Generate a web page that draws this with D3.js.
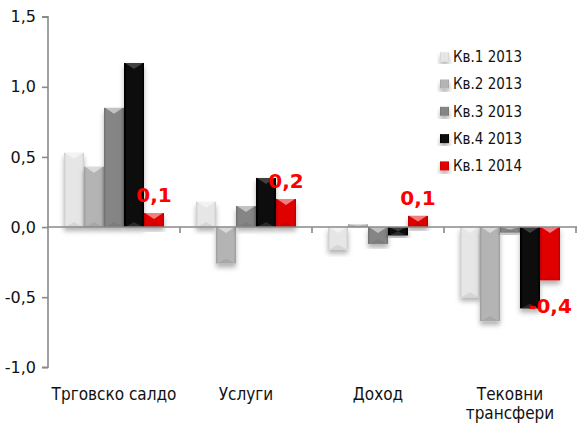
<!DOCTYPE html>
<html>
<head>
<meta charset="utf-8">
<script src="https://cdn.jsdelivr.net/npm/d3@7"></script>
<style>
  html, body { margin: 0; padding: 0; background: #fff; }
  svg { display: block; }
</style>
</head>
<body>
<svg id="chart" width="577" height="424"></svg>
<script>
// Current account components by quarter
const categories = ["Трговско салдо", "Услуги", "Доход", "Тековни трансфери"];
const seriesNames = ["Кв.1 2013", "Кв.2 2013", "Кв.3 2013", "Кв.4 2013", "Кв.1 2014"];
const q1_2013 = [0.53, 0.18, -0.16, -0.50];
const q2_2013 = [0.43, -0.26, 0.02, -0.67];
const q3_2013 = [0.85, 0.15, -0.12, -0.04];
const q4_2013 = [1.17, 0.35, -0.06, -0.58];
const q1_2014 = [0.10, 0.20, 0.08, -0.38];
const yTicks = [-1.0, -0.5, 0.0, 0.5, 1.0, 1.5];

const seriesValues = [q1_2013, q2_2013, q3_2013, q4_2013, q1_2014];
const labelledSeries = 4;

// base colour, edge colour for each series
const palette = [
  { base: "#e6e6e6", edge: "#cdcdcd" },
  { base: "#b4b4b4", edge: "#9c9c9c" },
  { base: "#858585", edge: "#6e6e6e" },
  { base: "#0a0a0a", edge: "#000000" },
  { base: "#e00000", edge: "#b40000" }
];

const locale = d3.formatLocale({ decimal: ",", thousands: " ", grouping: [3], currency: ["", ""], minus: "-" });
const fmt = locale.format(".1f");

const svg = d3.select("#chart");
const plot = { left: 48, right: 576, top: 16.7, bottom: 367.3 };

const x0 = d3.scaleBand().domain(categories).range([plot.left, plot.right]).padding(0);
const x1 = d3.scaleBand().domain(d3.range(seriesNames.length))
  .range([0, x0.bandwidth()]).paddingInner(0).paddingOuter(0.8);
const y = d3.scaleLinear().domain([-1, 1.5]).range([plot.bottom, plot.top]);

const defs = svg.append("defs");
const shadow = defs.append("filter").attr("id", "barShadow")
  .attr("x", "-30%").attr("y", "-30%").attr("width", "160%").attr("height", "160%");
shadow.append("feDropShadow").attr("dx", 0).attr("dy", 4).attr("stdDeviation", 2.5)
  .attr("flood-color", "#000").attr("flood-opacity", 0.3);

palette.forEach((p, i) => {
  const g = defs.append("linearGradient").attr("id", "fill" + i)
    .attr("x1", "0%").attr("x2", "100%").attr("y1", "0%").attr("y2", "0%");
  g.append("stop").attr("offset", "0%").attr("stop-color", p.edge);
  g.append("stop").attr("offset", "12%").attr("stop-color", p.base);
  g.append("stop").attr("offset", "88%").attr("stop-color", p.base);
  g.append("stop").attr("offset", "100%").attr("stop-color", p.edge);
});

// Y axis
const axisColor = "#8a8a8a";
const yAxis = d3.axisLeft(y).tickValues(yTicks).tickSize(6).tickPadding(6).tickFormat(fmt);
const yG = svg.append("g").attr("transform", `translate(${plot.left},0)`).call(yAxis);
yG.select(".domain").attr("stroke", axisColor).attr("stroke-width", 1.6).attr("d", `M-6,${y(1.5)}H0V${y(-1)}H-6`);
yG.selectAll(".tick line").attr("stroke", axisColor).attr("stroke-width", 1.6);
yG.selectAll(".tick text").attr("fill", "#111").attr("font-family", "DejaVu Sans, Verdana, sans-serif").attr("font-size", 16);

// Bars with a bevelled look
const bars = svg.append("g");
categories.forEach((cat, ci) => {
  seriesValues.forEach((vals, si) => {
    const v = vals[ci];
    const bx = x0(cat) + x1(si);
    const bw = x1.bandwidth();
    const top = y(Math.max(0, v));
    const bot = y(Math.min(0, v));
    const h = Math.max(bot - top, 0.8);
    const g = bars.append("g").attr("filter", "url(#barShadow)");
    g.append("rect").attr("x", bx).attr("y", top).attr("width", bw).attr("height", h)
      .attr("fill", `url(#fill${si})`);
    // light chevron on the top end
    const bh = Math.min(6, h / 2);
    g.append("path")
      .attr("d", `M${bx + 1},${top}H${bx + bw - 1}L${bx + bw / 2},${top + bh}Z`)
      .attr("fill", "#fff").attr("opacity", si === 3 ? 0.22 : 0.5);
    // faint darker chevron on the bottom end
    const lb = Math.min(5, h / 2);
    g.append("path")
      .attr("d", `M${bx + 1},${top + h}H${bx + bw - 1}L${bx + bw / 2},${top + h - lb}Z`)
      .attr("fill", si === 3 ? "#555" : "#000").attr("opacity", si === 3 ? 0.45 : 0.07);
  });
});

// X axis at zero with category separators
svg.append("line").attr("x1", plot.left).attr("x2", 577).attr("y1", y(0)).attr("y2", y(0))
  .attr("stroke", axisColor).attr("stroke-width", 1.6);
categories.forEach(cat => {
  const tx = x0(cat) + x0.bandwidth();
  svg.append("line").attr("x1", tx).attr("x2", tx).attr("y1", y(0)).attr("y2", y(0) + 6)
    .attr("stroke", axisColor).attr("stroke-width", 1.6);
});

// Category labels
const catLines = { "Тековни трансфери": ["Тековни", "трансфери"] };
categories.forEach(cat => {
  const lines = catLines[cat] || [cat];
  const t = svg.append("text").attr("text-anchor", "middle")
    .attr("font-family", "DejaVu Sans Condensed, DejaVu Sans, sans-serif").attr("font-size", 17)
    .attr("fill", "#111");
  lines.forEach((ln, i) => {
    t.append("tspan").attr("x", x0(cat) + x0.bandwidth() / 2).attr("y", 399.5 + i * 19.5).text(ln);
  });
});

// Value labels for the latest quarter
const labelVals = seriesValues[labelledSeries];
categories.forEach((cat, ci) => {
  const v = labelVals[ci];
  const cx = x0(cat) + x1(labelledSeries) + x1.bandwidth() / 2;
  const ty = v >= 0 ? y(v) - 11 : y(v) + 33;
  svg.append("text").attr("x", cx).attr("y", ty).attr("text-anchor", "middle")
    .attr("font-family", "DejaVu Sans, sans-serif").attr("font-weight", "bold")
    .attr("font-size", 20).attr("fill", "#ff0000").text(fmt(v));
});

// Legend
const legend = svg.append("g");
seriesNames.forEach((name, i) => {
  const ly = 56.7 + i * 27.3;
  const lg = legend.append("g");
  lg.append("rect").attr("x", 440).attr("y", ly - 4.5).attr("width", 9).attr("height", 9)
    .attr("fill", `url(#fill${i})`).attr("filter", "url(#barShadow)");
  lg.append("text").attr("x", 453).attr("y", ly).attr("dy", "0.36em")
    .attr("font-family", "DejaVu Sans Condensed, DejaVu Sans, sans-serif").attr("font-size", 15)
    .attr("fill", "#111").text(name);
});
</script>
</body>
</html>
